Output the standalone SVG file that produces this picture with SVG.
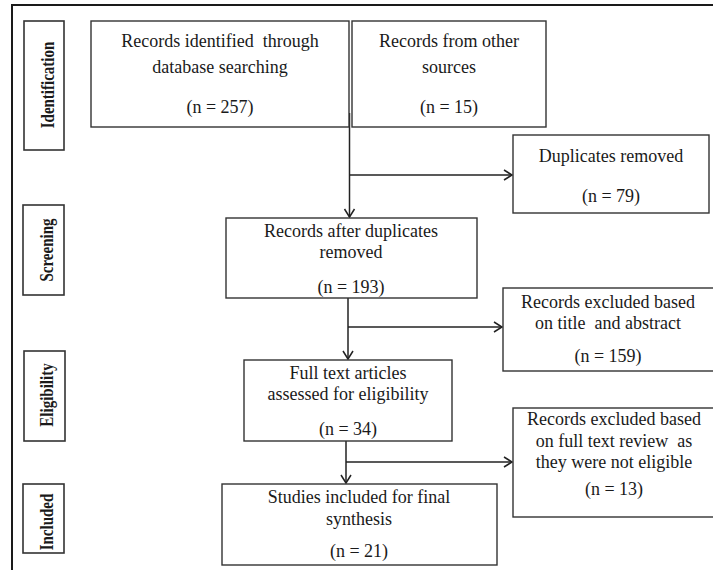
<svg xmlns="http://www.w3.org/2000/svg" width="713" height="570" viewBox="0 0 713 570">
<style>
.frame{fill:none;stroke:#1a1a1a;stroke-width:2}
.box{fill:#fff;stroke:#333;stroke-width:1.4}
.lab{fill:#fff;stroke:#333;stroke-width:1.6}
.t{font-family:"Liberation Serif","Times New Roman",serif;font-size:18px;fill:#1a1a1a;text-anchor:middle}
.v{font-family:"Liberation Serif","Times New Roman",serif;font-size:15px;font-weight:bold;fill:#1a1a1a;text-anchor:middle}
.c{fill:none;stroke:#222;stroke-width:1.5}
</style>
<defs>
<marker id="arr" markerUnits="userSpaceOnUse" markerWidth="14" markerHeight="14" refX="9" refY="6" orient="auto" viewBox="0 0 14 14">
<path d="M1,1 L9,6 L1,11" fill="none" stroke="#222" stroke-width="1.5"/>
</marker>
</defs>
<path class="frame" d="M12,570 V5 H713"/>

<g id="label-identification">
<rect class="lab" x="24" y="21" width="40" height="129"/>
<text class="v" transform="translate(54,85) rotate(-90) scale(1,1.3)">Identification</text>
</g>
<g id="label-screening">
<rect class="lab" x="23" y="205" width="41" height="90"/>
<text class="v" transform="translate(53,250) rotate(-90) scale(1,1.3)">Screening</text>
</g>
<g id="label-eligibility">
<rect class="lab" x="24" y="351" width="41" height="90"/>
<text class="v" transform="translate(53,395) rotate(-90) scale(1,1.3)">Eligibility</text>
</g>
<g id="label-included">
<rect class="lab" x="23" y="484" width="41" height="69"/>
<text class="v" transform="translate(53,522) rotate(-90) scale(1,1.3)">Included</text>
</g>

<g id="connectors">
<path class="c" d="M349.5,113 V127" stroke-width="2.5"/>
<path class="c" d="M349.5,127 V217" marker-end="url(#arr)"/>
<path class="c" d="M350,175 H512" marker-end="url(#arr)"/>
<path class="c" d="M348,298 V359" marker-end="url(#arr)"/>
<path class="c" d="M348,327 H502" marker-end="url(#arr)"/>
<path class="c" d="M346,441 V483" marker-end="url(#arr)"/>
<path class="c" d="M346,462 H512" marker-end="url(#arr)"/>
</g>

<g id="n-database">
<rect class="box" x="91" y="21" width="258" height="106"/>
<text class="t" x="220" y="47" style="white-space:pre">Records identified  through</text>
<text class="t" x="220" y="73">database searching</text>
<text class="t" x="220" y="113">(n = 257)</text>
</g>
<g id="n-other">
<rect class="box" x="352" y="21" width="194" height="106"/>
<text class="t" x="449" y="47">Records from other</text>
<text class="t" x="449" y="73">sources</text>
<text class="t" x="449" y="113">(n = 15)</text>
</g>
<g id="n-duplicates">
<rect class="box" x="513" y="135" width="196" height="78"/>
<text class="t" x="611" y="162">Duplicates removed</text>
<text class="t" x="611" y="202">(n = 79)</text>
</g>
<g id="n-screened">
<rect class="box" x="226" y="218" width="251" height="80"/>
<text class="t" x="351" y="237">Records after duplicates</text>
<text class="t" x="351" y="258">removed</text>
<text class="t" x="351" y="293">(n = 193)</text>
</g>
<g id="n-excluded-title">
<rect class="box" x="503" y="288" width="212" height="83"/>
<text class="t" x="608" y="308">Records excluded based</text>
<text class="t" x="608" y="329" style="white-space:pre">on title  and abstract</text>
<text class="t" x="608" y="362">(n = 159)</text>
</g>
<g id="n-eligibility">
<rect class="box" x="244" y="360" width="208" height="81"/>
<text class="t" x="348" y="379">Full text articles</text>
<text class="t" x="348" y="400">assessed for eligibility</text>
<text class="t" x="348" y="435">(n = 34)</text>
</g>
<g id="n-excluded-fulltext">
<rect class="box" x="513" y="408" width="202" height="109"/>
<text class="t" x="614" y="425">Records excluded based</text>
<text class="t" x="614" y="447" style="white-space:pre">on full text review  as</text>
<text class="t" x="614" y="468">they were not eligible</text>
<text class="t" x="614" y="495">(n = 13)</text>
</g>
<g id="n-included">
<rect class="box" x="222" y="484" width="275" height="81"/>
<text class="t" x="359" y="503">Studies included for final</text>
<text class="t" x="359" y="525">synthesis</text>
<text class="t" x="359" y="557">(n = 21)</text>
</g>
</svg>
